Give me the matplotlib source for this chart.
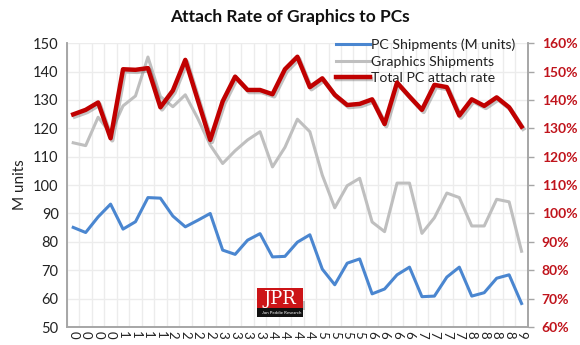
import numpy as np
import matplotlib
matplotlib.use('Agg')
import matplotlib.pyplot as plt
import matplotlib.patheffects as pe
from matplotlib.patches import Rectangle

plt.rcParams['font.family'] = ['Lato', 'DejaVu Sans']

# quarterly data, labels shown as single digits on the chart
labels = ['0'] * 4 + ['1'] * 4 + ['2'] * 4 + ['3'] * 4 + ['4'] * 4 + \
         ['5'] * 4 + ['6'] * 4 + ['7'] * 4 + ['8'] * 4 + ['9']

pc_ship = [85.1, 83.3, 88.8, 93.3, 84.5, 87.1, 95.6, 95.4, 89.1, 85.3,
           87.6, 90.0, 77.1, 75.6, 80.6, 82.9, 74.7, 74.9, 79.9, 82.5,
           70.4, 64.9, 72.5, 74.0, 61.7, 63.4, 68.4, 71.1, 60.7, 60.9,
           67.6, 71.1, 60.9, 62.1, 67.2, 68.4, 58.3]

gfx_ship = [114.9, 113.9, 123.9, 118.2, 127.9, 131.4, 145.1, 131.2, 127.6, 131.8,
            123.5, 114.1, 107.6, 112.1, 115.9, 118.8, 106.4, 113.3, 123.2, 118.8,
            103.5, 92.0, 99.8, 102.4, 87.0, 83.6, 100.7, 100.7, 83.0, 88.5,
            97.2, 95.6, 85.6, 85.6, 95.0, 94.1, 76.7]

attach = [134.9, 136.5, 139.1, 126.5, 150.8, 150.6, 151.2, 137.4, 143.3, 154.1,
          140.0, 125.9, 139.5, 148.2, 143.5, 143.5, 142.0, 150.8, 155.2, 144.5,
          147.6, 141.8, 138.2, 138.6, 140.2, 131.5, 146.1, 141.2, 136.5, 145.3,
          144.5, 134.5, 140.2, 137.9, 140.9, 137.4, 130.6]

x = np.arange(len(labels))

fig = plt.figure(figsize=(5.8, 3.45), dpi=100)
ax = fig.add_axes([0.1155, 0.052, 0.7945, 0.823])
ax2 = ax.twinx()

l1, = ax.plot(x, pc_ship, color='#4a86d0', lw=2.2, zorder=3)
l2, = ax.plot(x, gfx_ship, color='#bfbfbf', lw=2.2, zorder=2)
l3, = ax2.plot(x, attach, color='#c00000', lw=3.2, zorder=3,
               path_effects=[pe.SimpleLineShadow(offset=(1.2, -1.5), shadow_color='#555555', alpha=0.35),
                             pe.Normal()])

ax.set_xlim(-0.5, len(labels) - 0.5)
ax.set_ylim(50, 150)
ax.set_yticks(np.arange(50, 151, 10))
ax2.set_ylim(60, 160)
ax2.set_yticks(np.arange(60, 161, 10))
ax2.set_yticklabels([f'{v}%' for v in range(60, 161, 10)])

ax.set_xticks(x)
ax.set_xticklabels(labels, rotation=-90, fontsize=9.5, color='#222222')
ax.set_xticks(np.arange(-0.5, len(labels), 1), minor=True)
ax.tick_params(axis='x', which='both', length=0, pad=3)
ax.tick_params(axis='y', length=0, labelsize=10.5, labelcolor='#222222', pad=6)
ax2.tick_params(axis='y', length=4, width=1, color='#a6a6a6', labelsize=10,
                labelcolor='#c0141c', pad=6)
for t in ax2.get_yticklabels():
    t.set_fontweight('bold')

ax.grid(axis='x', which='minor', color='#ececec', lw=1)
ax.grid(axis='y', which='major', color='#ececec', lw=1)
ax.set_axisbelow(True)

for a in (ax, ax2):
    a.spines['top'].set_visible(False)
    for s in ('left', 'right', 'bottom'):
        a.spines[s].set_color('#a6a6a6')
        a.spines[s].set_linewidth(1.2)

ax.set_ylabel('M units', fontsize=11, color='#222222', labelpad=4)

fig.text(0.5, 0.95, 'Attach Rate of Graphics to PCs', ha='center', va='center',
         fontsize=12.5, fontweight='bold', color='#111111')

leg = ax2.legend([l1, l2, l3], ['PC Shipments (M units)', 'Graphics Shipments', 'Total PC attach rate'],
                 loc='upper right', bbox_to_anchor=(0.985, 1.035), frameon=False, fontsize=10.2,
                 handlelength=2.4, handletextpad=0.1, labelspacing=0.3, borderaxespad=0)
leg.set_zorder(1)
for t in leg.get_texts():
    t.set_color('#222222')

# JPR logo
fig.patches.append(Rectangle((259 / 580, 1 - 310 / 345), 46 / 580, 9 / 345, transform=fig.transFigure,
                             facecolor='#888888', edgecolor='none', zorder=4, alpha=0.5))
fig.patches.append(Rectangle((257 / 580, 1 - 308 / 345), 46 / 580, 20 / 345, transform=fig.transFigure,
                             facecolor='#cc1417', edgecolor='none', zorder=5))
fig.patches.append(Rectangle((257 / 580, 1 - 317 / 345), 46 / 580, 9 / 345, transform=fig.transFigure,
                             facecolor='#111111', edgecolor='none', zorder=5))
fig.text(280 / 580, 1 - 298.5 / 345, 'JPR', ha='center', va='center', color='white',
         fontsize=13, family='DejaVu Serif', zorder=6)
fig.text(282 / 580, 1 - 312.5 / 345, 'Jon Peddie Research', ha='center', va='center', color='white',
         fontsize=3.2, zorder=6)

fig.savefig('out.png', dpi=100)
